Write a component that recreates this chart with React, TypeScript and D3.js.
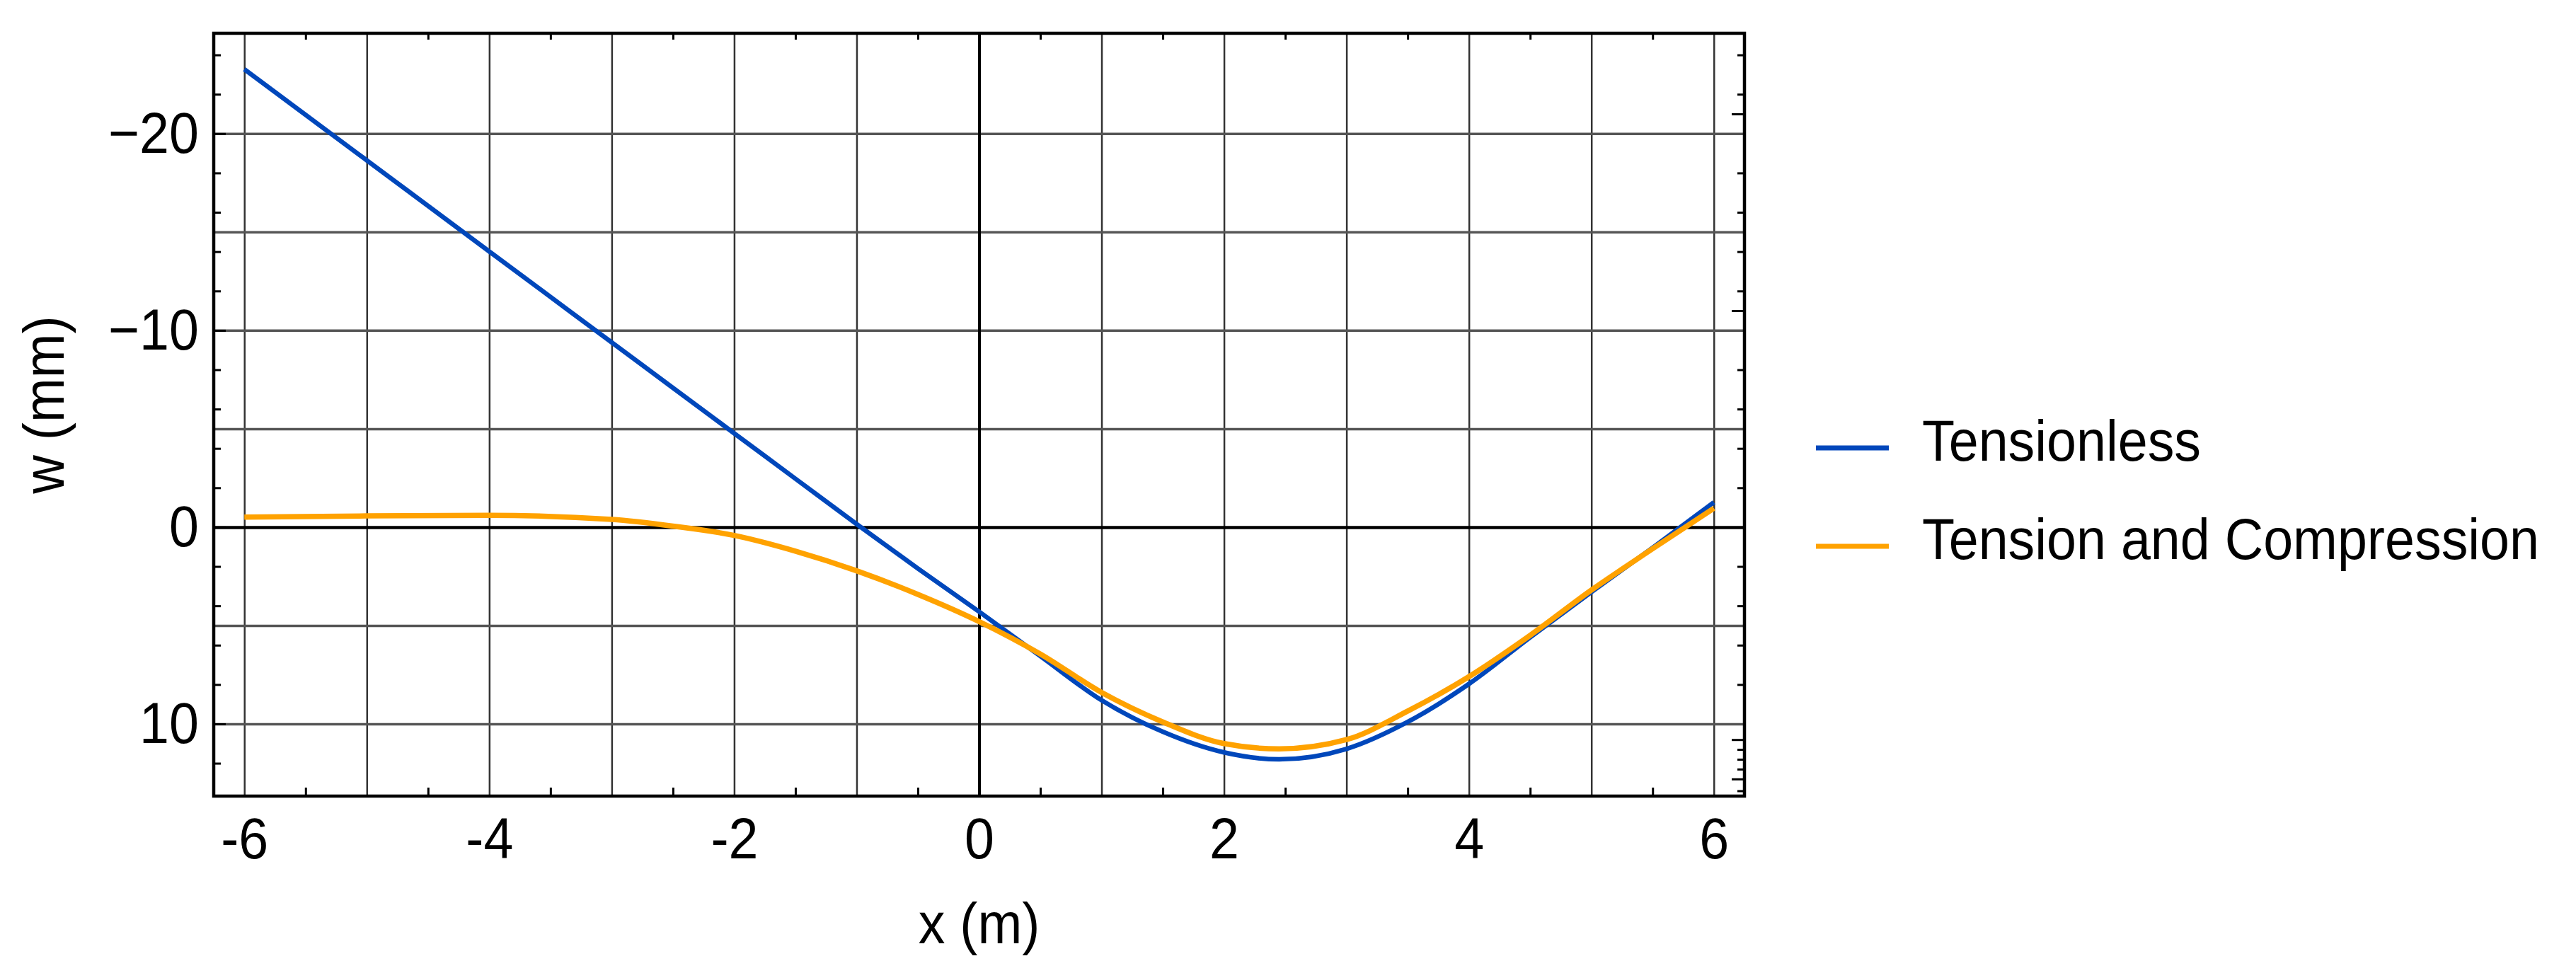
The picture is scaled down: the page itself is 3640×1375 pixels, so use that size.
import React, { useEffect, useRef } from 'react'
import { select, scaleLinear, axisBottom, axisLeft, axisTop, axisRight, line, curveMonotoneX } from 'd3'

const width = 3640
const height = 1375

// axis ticks / grid
const xTickValues = [-6, -4, -2, 0, 2, 4, 6]
const xGridValues = [-6, -5, -4, -3, -2, -1, 1, 2, 3, 4, 5, 6]
const xMinorValues = [-5.5, -4.5, -3.5, -2.5, -1.5, -0.5, 0.5, 1.5, 2.5, 3.5, 4.5, 5.5]
const yTickValues = [-20, -10, 0, 10]
const yGridValues = [-20, -15, -10, -5, 5, 10]
const yMinorLeft = [-24, -22, -18, -16, -14, -12, -8, -6, -4, -2, 2, 4, 6, 8, 12]
const yMinorRight = [-24, -22, -18, -16, -14, -12, -8, -6, -4, -2, 2, 4, 6, 8, 11.3, 11.8, 12.3, 13.4]
const yLongRight = [-21, -11, 10.8, 12.8]

// series (x in m, w in mm)
const xValues = [-6, -5, -4, -3, -2.5, -2, -1.5, -1, -0.5, 0, 0.5, 1, 1.5, 2, 2.45, 3, 3.5, 4, 4.5, 5, 5.5, 6]
const tensionless = [-23.27, -18.64, -14.01, -9.39, -7.08, -4.77, -2.46, -0.15, 2.1, 4.3, 6.55, 8.8, 10.4, 11.45, 11.8, 11.27, 9.9, 7.97, 5.6, 3.3, 1.05, -1.26]
const tensionCompression = [-0.51, -0.57, -0.6, -0.39, -0.05, 0.42, 1.22, 2.22, 3.42, 4.8, 6.45, 8.4, 9.9, 11.0, 11.27, 10.8, 9.35, 7.6, 5.5, 3.2, 1.1, -0.96]

const seriesNames = ['Tensionless', 'Tension and Compression']
const seriesColors = ['#0047bb', '#ffa200']

const fontFamily = '"Liberation Sans", Arial, sans-serif'
const fontSize = 82
const squeeze = 0.92

function Chart() {
    const ref = useRef(null)

    useEffect(() => {
        const svg = select(ref.current)
        svg.selectAll('*').remove()

        const left = 302, right = 2465, top = 47, bottom = 1125
        const plotW = right - left
        const plotH = bottom - top

        const x = scaleLinear().domain([-6.25, 6.25]).range([left, right])
        const y = scaleLinear().domain([-25.1, 13.67]).range([top, bottom])

        const clean = (g) => {
            g.select('.domain').remove()
            g.selectAll('text').remove()
        }

        // vertical grid
        svg.append('g')
            .attr('transform', `translate(0,${bottom})`)
            .call(axisBottom(x).tickValues(xGridValues).tickSize(-plotH).tickFormat(() => ''))
            .call(clean)
            .selectAll('line').attr('stroke', '#333').attr('stroke-width', 2.5)

        // horizontal grid
        svg.append('g')
            .attr('transform', `translate(${left},0)`)
            .call(axisLeft(y).tickValues(yGridValues).tickSize(-plotW).tickFormat(() => ''))
            .call(clean)
            .selectAll('line').attr('stroke', '#555').attr('stroke-width', 3.5)

        // zero axes
        svg.append('g')
            .attr('transform', `translate(${left},0)`)
            .call(axisLeft(y).tickValues([0]).tickSize(-plotW).tickFormat(() => ''))
            .call(clean)
            .selectAll('line').attr('stroke', '#000').attr('stroke-width', 4.5)
        svg.append('g')
            .attr('transform', `translate(0,${bottom})`)
            .call(axisBottom(x).tickValues([0]).tickSize(-plotH).tickFormat(() => ''))
            .call(clean)
            .selectAll('line').attr('stroke', '#000').attr('stroke-width', 4)

        // frame ticks
        const tick = (axis, tx, ty, values, size) => {
            svg.append('g')
                .attr('transform', `translate(${tx},${ty})`)
                .call(axis.tickValues(values).tickSize(size).tickFormat(() => ''))
                .call(clean)
                .selectAll('line').attr('stroke', '#000').attr('stroke-width', 3)
        }
        tick(axisBottom(x), 0, bottom, xMinorValues, -12)
        tick(axisTop(x), 0, top, xMinorValues, -9)
        tick(axisLeft(y), left, 0, yMinorLeft, -10)
        tick(axisLeft(y), left, 0, yTickValues, -17)
        tick(axisRight(y), right, 0, yMinorRight, -10)
        tick(axisRight(y), right, 0, yLongRight, -18)

        // series
        const series = [tensionless, tensionCompression]
        series.forEach((vals, i) => {
            const pts = xValues.map((xv, j) => [xv, vals[j]])
            svg.append('path')
                .datum(pts)
                .attr('fill', 'none')
                .attr('stroke', seriesColors[i])
                .attr('stroke-width', i === 0 ? 6.5 : 7.5)
                .attr('stroke-linejoin', 'round')
                .attr('d', line().x(d => x(d[0])).y(d => y(d[1])).curve(curveMonotoneX))
        })

        // frame
        svg.append('rect')
            .attr('x', left).attr('y', top)
            .attr('width', plotW).attr('height', plotH)
            .attr('fill', 'none')
            .attr('stroke', '#000')
            .attr('stroke-width', 4.5)

        // tick labels
        const xLab = svg.append('g')
            .attr('transform', `translate(0,${bottom})`)
            .call(axisBottom(x).tickValues(xTickValues).tickSize(0).tickPadding(30).tickFormat(d => String(d)))
        xLab.select('.domain').remove()
        xLab.selectAll('text')
            .attr('font-family', fontFamily)
            .attr('font-size', fontSize)
            .attr('fill', '#000')
            .attr('transform', `scale(${squeeze},1)`)

        const yLab = svg.append('g')
            .attr('transform', `translate(${left},0)`)
            .call(axisLeft(y).tickValues(yTickValues).tickSize(0).tickPadding(21))
        yLab.select('.domain').remove()
        yLab.selectAll('text')
            .attr('font-family', fontFamily)
            .attr('font-size', fontSize)
            .attr('fill', '#000')
            .attr('x', -21 / squeeze)
            .attr('transform', `scale(${squeeze},1)`)

        // axis titles
        svg.append('text')
            .attr('transform', `translate(${x(0)},1333) scale(${squeeze},1)`)
            .attr('text-anchor', 'middle')
            .attr('font-family', fontFamily)
            .attr('font-size', fontSize)
            .text('x (m)')

        svg.append('text')
            .attr('transform', `translate(90,572) rotate(-90) scale(${squeeze},1)`)
            .attr('text-anchor', 'middle')
            .attr('font-family', fontFamily)
            .attr('font-size', fontSize)
            .text('w (mm)')

        // legend
        const legendY = [633, 772]
        seriesNames.forEach((name, i) => {
            svg.append('line')
                .attr('x1', 2566).attr('x2', 2669)
                .attr('y1', legendY[i]).attr('y2', legendY[i])
                .attr('stroke', seriesColors[i])
                .attr('stroke-width', 7)
            svg.append('text')
                .attr('transform', `translate(2716,${legendY[i] + 18}) scale(${squeeze},1)`)
                .attr('font-family', fontFamily)
                .attr('font-size', fontSize)
                .text(name)
        })
    }, [])

    return <svg ref={ref} width={width} height={height}
                style={{position: 'absolute', left: 0, top: 0, background: '#fff'}}/>
}

export default function App() {
    return <Chart/>
}
